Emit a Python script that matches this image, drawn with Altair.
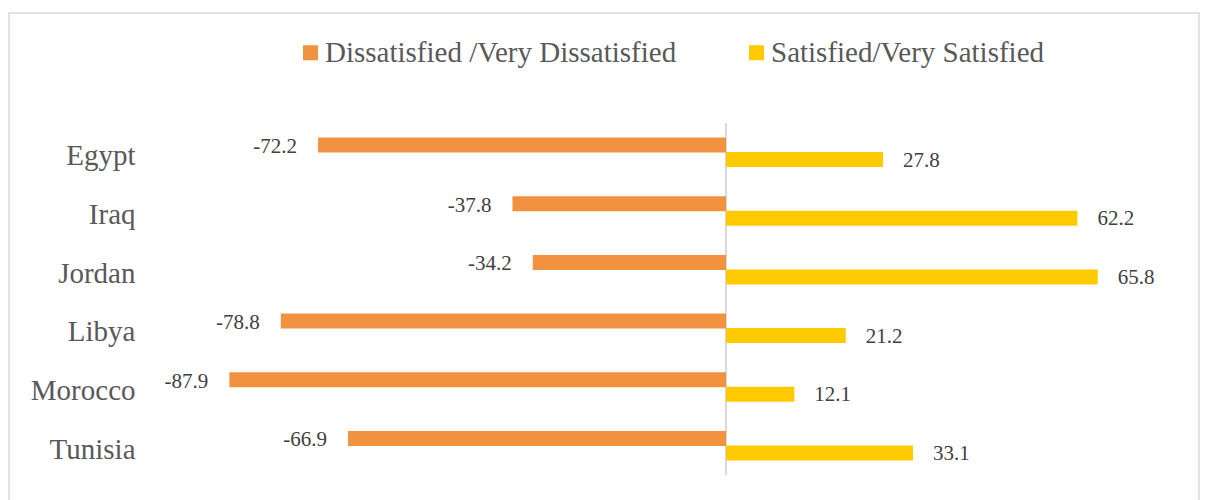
import altair as alt
import pandas as pd

countries = ["Egypt", "Iraq", "Jordan", "Libya", "Morocco", "Tunisia"]
dissatisfied = [-72.2, -37.8, -34.2, -78.8, -87.9, -66.9]
satisfied = [27.8, 62.2, 65.8, 21.2, 12.1, 33.1]
series_names = ["Dissatisfied /Very Dissatisfied", "Satisfied/Very Satisfied"]
series_colors = ["#F19240", "#FFCA00"]

rows = []
for c, d, s in zip(countries, dissatisfied, satisfied):
    rows.append({"country": c, "series": series_names[0], "value": d, "label": f"{d:.1f}"})
    rows.append({"country": c, "series": series_names[1], "value": s, "label": f"{s:.1f}"})
df = pd.DataFrame(rows)

FONT = "Liberation Serif"

x_enc = alt.X("value:Q", axis=None, scale=alt.Scale(domain=[-100, 80], nice=False, zero=False))
y_enc = alt.Y(
    "country:N",
    sort=countries,
    title=None,
    scale=alt.Scale(paddingInner=0.506, paddingOuter=0.253),
    axis=alt.Axis(
        domain=False, ticks=False, labelFont=FONT, labelFontSize=29,
        labelColor="#595959", labelPadding=26, labelOffset=4,
    ),
)
yoff_enc = alt.YOffset("series:N", sort=series_names,
                       scale=alt.Scale(domain=series_names, paddingInner=0, paddingOuter=0))

base = alt.Chart(df)

bars = base.mark_bar(size=15).encode(
    x=x_enc,
    y=y_enc,
    yOffset=yoff_enc,
    color=alt.Color(
        "series:N",
        sort=series_names,
        scale=alt.Scale(domain=series_names, range=series_colors),
        legend=alt.Legend(
            orient="none", legendX=135, legendY=-85, direction="horizontal",
            title=None, symbolType="square", symbolSize=225, symbolStrokeWidth=0,
            labelFont=FONT, labelFontSize=29, labelColor="#595959",
            columnPadding=65, labelOffset=0, labelLimit=600, padding=0,
        ),
    ),
)

zero_rule = alt.Chart(pd.DataFrame({"v": [0]})).mark_rule(color="#d9d9d9", strokeWidth=2).encode(
    x=alt.X("v:Q", scale=alt.Scale(domain=[-100, 80], nice=False, zero=False), axis=None)
)

text_neg = base.transform_filter(alt.datum.value < 0).mark_text(
    align="right", baseline="middle", dx=-21, dy=2, font=FONT, fontSize=21, color="#404040"
).encode(x=x_enc, y=y_enc, yOffset=yoff_enc, text="label:N")

text_pos = base.transform_filter(alt.datum.value > 0).mark_text(
    align="left", baseline="middle", dx=20, dy=1, font=FONT, fontSize=21, color="#404040"
).encode(x=x_enc, y=y_enc, yOffset=yoff_enc, text="label:N")

frame = alt.Chart(pd.DataFrame({"f": [0]})).mark_rect(
    fillOpacity=0, stroke="#d9d9d9", strokeWidth=1.5
).encode(
    x=alt.value(-152), x2=alt.value(1038), y=alt.value(-110), y2=alt.value(400)
)

chart = alt.layer(frame, zero_rule, bars, text_neg, text_pos).properties(
    width=1017,
    height=352,
    padding={"left": 161, "top": 123, "right": 30, "bottom": 25},
    autosize=alt.AutoSizeParams(type="none"),
    background="white",
).configure_view(strokeWidth=0)

chart.save("out.html", embed_options={"renderer": "svg", "actions": False})
